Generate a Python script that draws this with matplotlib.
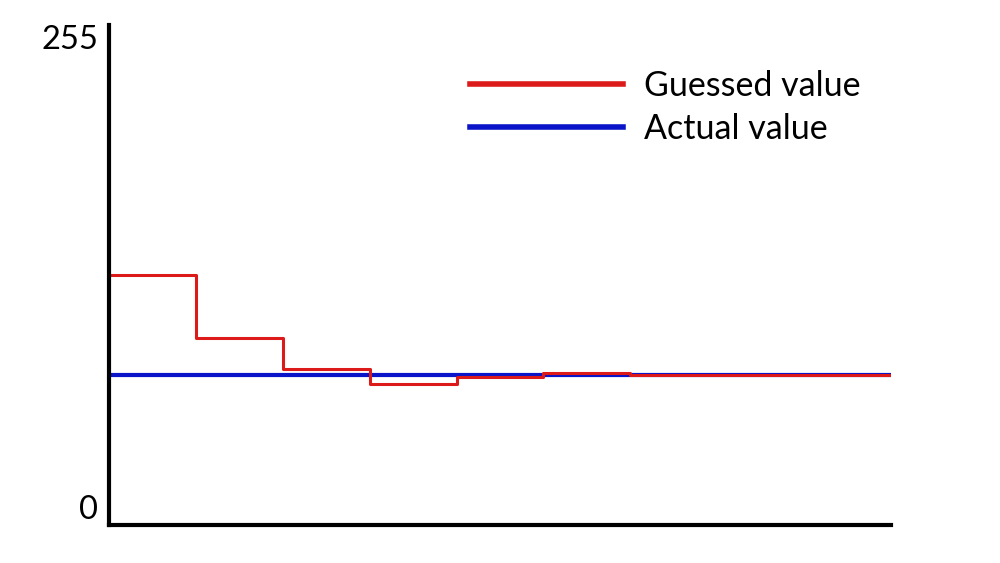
import matplotlib
matplotlib.use("Agg")
from matplotlib import pyplot as plt
import numpy as np

# step positions (one step per guess) and values on a 0..255 scale
steps = [0, 1, 2, 3, 4, 5, 6, 9]
guessed = [127.5, 95.5, 79.5, 72, 75.5, 77.5, 76.5, 76.5]
actual = 76.5
ymax = 255

plt.rcParams['font.family'] = ['Lato', 'DejaVu Sans']

fig = plt.figure(figsize=(10, 5.63), dpi=100)
ax = fig.add_axes([109/1000, 38/563, 782/1000, 500/563])

ax.plot([steps[0], steps[-1]], [actual, actual], color="#0a14c8", lw=3, label="Actual value")
ax.plot(steps, guessed, drawstyle="steps-post", color="#dc1a1a", lw=2.2, label="Guessed value")

ax.set_xlim(steps[0], steps[-1])
ax.set_ylim(0, ymax)
ax.set_xticks([])
ax.set_yticks([0, ymax])
ax.set_yticklabels(["0", "255"], fontsize=23.5)
labels = ax.get_yticklabels()
labels[0].set_verticalalignment("bottom")
labels[1].set_verticalalignment("top")
ax.tick_params(axis="y", length=0, pad=8)

for s in ["top", "right"]:
    ax.spines[s].set_visible(False)
for s in ["left", "bottom"]:
    ax.spines[s].set_linewidth(3)
    ax.spines[s].set_color("black")

# legend: red first, then blue
h, l = ax.get_legend_handles_labels()
leg = fig.legend([h[1], h[0]], [l[1], l[0]], loc="upper left",
                 bbox_to_anchor=(470/1000, 1 - 70/563), frameon=False,
                 fontsize=24.5, handlelength=4.5, handletextpad=0.62,
                 labelspacing=0.31, borderpad=0, borderaxespad=0)
for line in leg.get_lines():
    line.set_linewidth(4)

fig.savefig("out.png", dpi=100)
